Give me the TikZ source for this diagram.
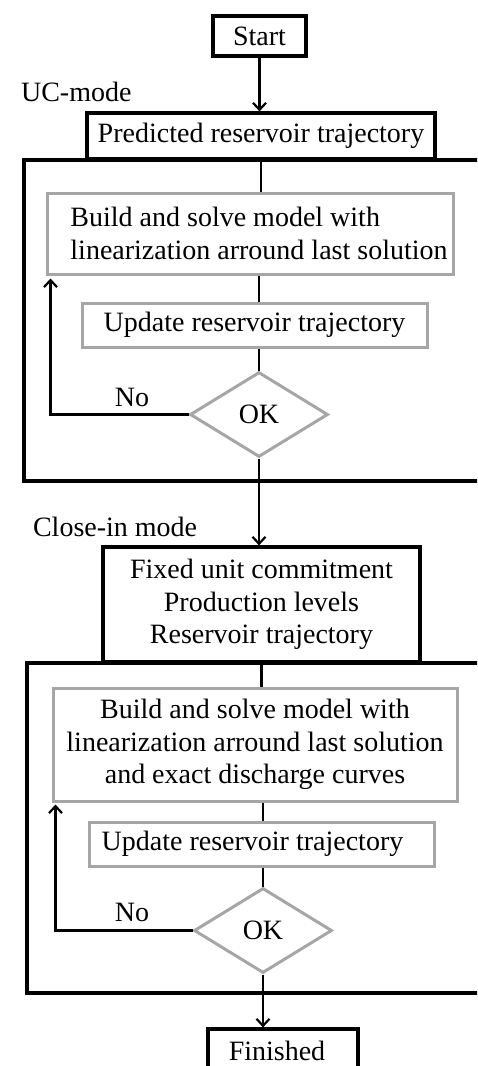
\documentclass[tikz,border=0pt]{standalone}
\usepackage{fontspec}
\setmainfont{Liberation Serif}
\usepackage{xcolor}
\usepackage{tikz}
\usetikzlibrary{arrows.meta,positioning,shapes.geometric}
\definecolor{boxgray}{RGB}{166,166,166}
\tikzset{
	x=0.5pt, y=-0.5pt, % one unit is one pixel of the sketch, y runs down
	>={Straight Barb[length=3.5pt,width=6.5pt]}, % open arrow heads
	font=\fontsize{14pt}{16.3pt}\selectfont,
	mainbox/.style={draw, line width=1.6pt, fill=white, inner sep=0pt, align=center},
	stepbox/.style={draw=boxgray, line width=1.5pt, fill=white, inner sep=0pt, align=center},
	decision/.style={diamond, draw=boxgray, line width=1.5pt, fill=white, inner sep=0pt,
		minimum width=69pt, minimum height=42.5pt},
	frame/.style={line width=1.6pt},
	flow/.style={line width=1.1pt},
}

\begin{document}
\begin{tikzpicture}
      \useasboundingbox (0,0) rectangle (477,1066);
      \clip (0,0) rectangle (477,1066);

      % the two mode frames
      \draw[frame] (24,160) rectangle (490,481);
      \draw[frame] (27,663) rectangle (490,993);

      \node[mainbox, minimum width=46.5pt, minimum height=20pt] (start) at (259.5,36) {Start};
      \node[anchor=base west] (ucmode) at (14,101) {UC-mode};
      \node[mainbox, minimum width=174pt, minimum height=23pt] (pred) at (261,136) {Predicted reservoir trajectory};
      \node[stepbox, minimum width=203pt, minimum height=40.5pt, align=left] (build1) at (250,233.5)
            {\hspace*{9pt}Build and solve model with\\\hspace*{9pt}linearization arround last solution};
      \node[stepbox, minimum width=172.5pt, minimum height=22pt] (update1) at (254.5,325) {Update reservoir trajectory};
      \node[decision] (ok1) at (259,414.5) {OK};
      \node (no1) at (132,397) {No};

      \node[anchor=base west] (closein) at (26,536) {Close-in mode};
      \node[mainbox, minimum width=158.5pt, minimum height=57.5pt] (fixed) at (261.5,604.5)
            {Fixed unit commitment\\Production levels\\Reservoir trajectory};
      \node[stepbox, minimum width=202pt, minimum height=56.5pt] (build2) at (255,744.5)
            {Build and solve model with\\linearization arround last solution\\and exact discharge curves};
      \node[stepbox, minimum width=172.5pt, minimum height=22pt] (update2) at (261.5,844) {Update reservoir trajectory\hspace*{9pt}};
      \node[decision] (ok2) at (263,930.5) {OK};
      \node (no2) at (132,912) {No};
      \node[mainbox, minimum width=75pt, minimum height=22pt] (finished) at (283,1051) {Finished\hspace*{6pt}};

      \draw[flow,->] (start) -- (start |- pred.north);
      \draw[flow] (pred.south) -- (pred.south |- build1.north);
      \draw[flow] (ok1 |- build1.south) -- (ok1 |- update1.north);
      \draw[flow] (ok1 |- update1.south) -- (ok1.north);
      \draw[flow,->,shorten >=1.5pt] (ok1.west) -| ([xshift=2.5pt]build1.south west);
      \draw[flow,->] (ok1.south) -- (ok1.south |- fixed.north);

      \draw[flow] (fixed.south) -- (fixed.south |- build2.north);
      \draw[flow] (ok2 |- build2.south) -- (ok2 |- update2.north);
      \draw[flow] (ok2 |- update2.south) -- (ok2.north);
      \draw[flow,->,shorten >=1pt] (ok2.west) -| ([xshift=2pt]build2.south west);
      \draw[flow,->] (ok2.south) -- (ok2.south |- finished.north);
\end{tikzpicture}
\end{document}
